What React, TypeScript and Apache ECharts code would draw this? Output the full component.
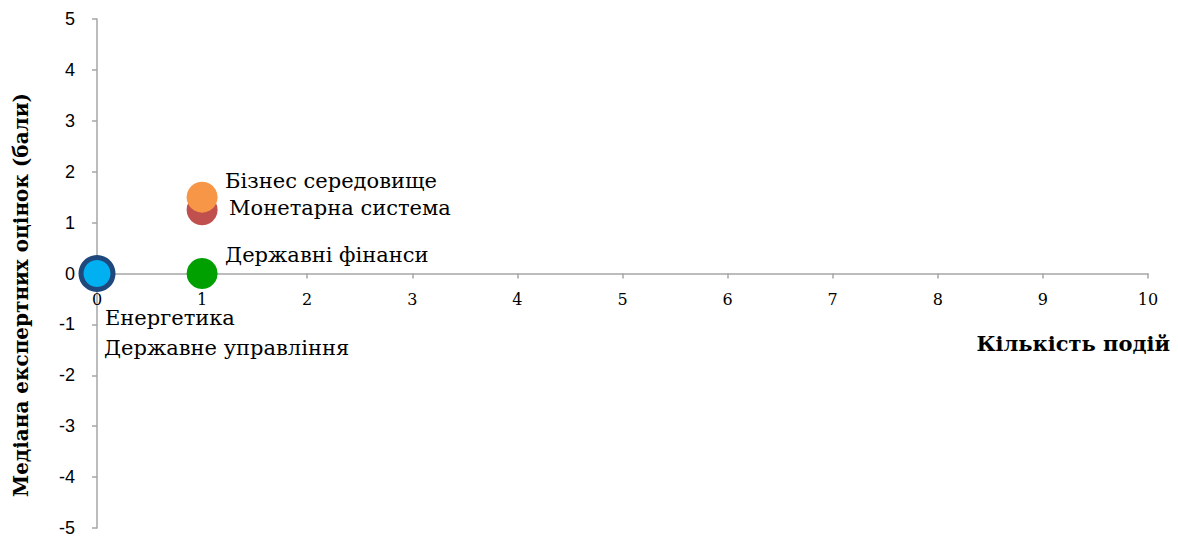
import React, { useEffect, useRef } from "react";
import * as echarts from "echarts";

const names = ["Енергетика", "Державне управління", "Державні фінанси", "Монетарна система", "Бізнес середовище"];
const xValues = [0, 0, 1, 1, 1];
const yValues = [0, 0, 0, 1.25, 1.5];

const xTitle = "Кількість подій";
const yTitle = "Медіана експертних оцінок (бали)";

const colors = ["#1F497D", "#00B0F0", "#00A000", "#C0504D", "#F79646"];
const sizes = [37, 27, 31, 31, 31];
const offsets: [number, number][] = [[-10.5, 44], [-6.5, 74], [7.5, -19], [11.5, -2], [7.5, -16]];

export default function App() {
  const ref = useRef<HTMLDivElement>(null);
  useEffect(() => {
    const chart = echarts.init(ref.current!, null, { renderer: "svg" });
    const axisColor = "#A6A6A6";
    chart.setOption({
      animation: false,
      grid: { left: 97, right: 30, top: 19, bottom: 8, outerBoundsMode: "none", containLabel: false },
      xAxis: {
        type: "value",
        min: 0,
        max: 10,
        interval: 1,
        position: "bottom",
        offset: -254.5,
        axisLine: { onZero: false, lineStyle: { color: axisColor, width: 1.5 } },
        axisTick: { show: true, length: 5, lineStyle: { color: axisColor, width: 1.5 } },
        splitLine: { show: false },
        axisLabel: { margin: 18, color: "#000", fontFamily: "DejaVu Serif", fontSize: 16 },
      },
      yAxis: {
        type: "value",
        min: -5,
        max: 5,
        interval: 1,
        axisLine: { show: true, lineStyle: { color: axisColor, width: 1.5 } },
        axisTick: { show: true, length: 5, lineStyle: { color: axisColor, width: 1.5 } },
        splitLine: { show: false },
        axisLabel: { margin: 22, color: "#000", fontFamily: "Liberation Sans", fontSize: 18 },
      },
      graphic: [
        {
          type: "text",
          x: 1170,
          y: 343,
          style: {
            text: xTitle,
            align: "right",
            verticalAlign: "middle",
            fontFamily: "DejaVu Serif",
            fontWeight: "bold",
            fontSize: 21,
            fill: "#000",
          },
        },
        {
          type: "text",
          x: 21,
          y: 295,
          rotation: Math.PI / 2,
          style: {
            text: yTitle,
            align: "center",
            verticalAlign: "middle",
            fontFamily: "DejaVu Serif",
            fontWeight: "bold",
            fontSize: 20,
            fill: "#000",
          },
        },
      ],
      series: names.map((n, i) => ({
        type: "scatter",
        name: n,
        symbol: "circle",
        symbolSize: sizes[i],
        z: 2 + i,
        itemStyle: { color: colors[i], opacity: 1 },
        label: {
          show: true,
          position: "right",
          distance: 0,
          offset: offsets[i],
          align: "left",
          verticalAlign: "middle",
          formatter: n,
          color: "#000",
          fontFamily: "DejaVu Serif",
          fontSize: 21,
        },
        data: [[xValues[i], yValues[i]]],
      })),
    });
    return () => chart.dispose();
  }, []);
  return <div ref={ref} style={{ width: 1178, height: 536, position: "absolute", left: 0, top: 0 }} />;
}
